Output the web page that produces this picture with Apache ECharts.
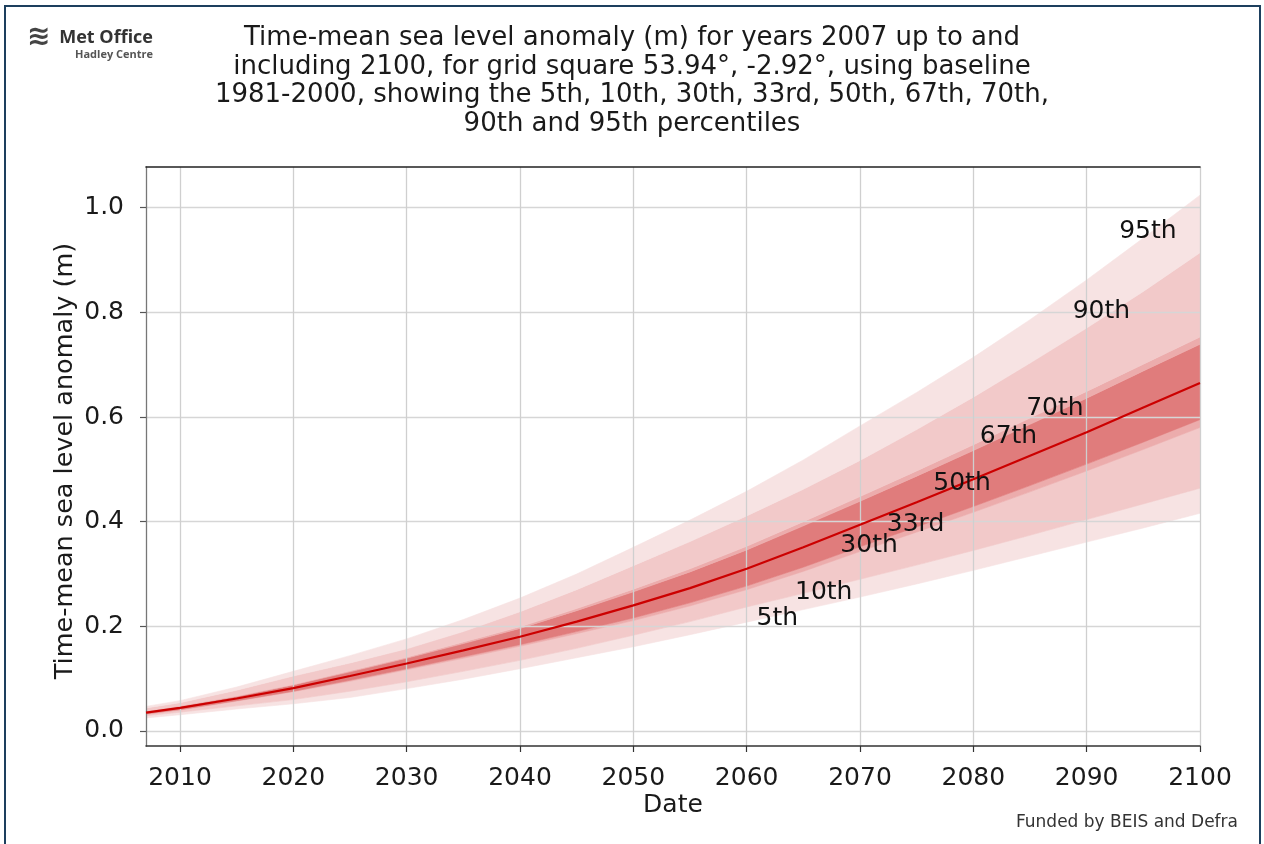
<!DOCTYPE html>
<html>
<head>
<meta charset="utf-8">
<script src="https://cdn.jsdelivr.net/npm/echarts@6/dist/echarts.min.js"></script>
<style>
html,body{margin:0;padding:0;background:#fff;}
#chart{width:1264px;height:844px;}
</style>
</head>
<body>
<div id="chart"></div>
<script>
var years = [2007,2010,2015,2020,2025,2030,2035,2040,2045,2050,2055,2060,2065,2070,2075,2080,2085,2090,2095,2100];
var p5  = [0.025,0.031,0.042,0.052,0.064,0.081,0.099,0.119,0.140,0.161,0.184,0.208,0.232,0.256,0.281,0.307,0.334,0.361,0.388,0.416];
var p10 = [0.029,0.036,0.048,0.060,0.076,0.094,0.114,0.135,0.158,0.183,0.209,0.237,0.263,0.290,0.317,0.345,0.374,0.404,0.434,0.464];
var p30 = [0.032,0.040,0.057,0.075,0.095,0.117,0.139,0.162,0.186,0.211,0.239,0.270,0.305,0.343,0.380,0.418,0.457,0.497,0.538,0.580];
var p33 = [0.033,0.041,0.058,0.076,0.097,0.119,0.142,0.165,0.190,0.216,0.245,0.277,0.313,0.352,0.390,0.429,0.469,0.510,0.552,0.595];
var p50 = [0.035,0.044,0.062,0.082,0.105,0.129,0.154,0.180,0.209,0.240,0.273,0.310,0.351,0.394,0.437,0.481,0.526,0.571,0.618,0.665];
var p67 = [0.037,0.047,0.066,0.088,0.113,0.139,0.167,0.196,0.230,0.266,0.304,0.346,0.392,0.439,0.487,0.536,0.586,0.636,0.688,0.739];
var p70 = [0.038,0.048,0.067,0.089,0.115,0.141,0.170,0.199,0.234,0.271,0.310,0.353,0.400,0.448,0.497,0.547,0.598,0.649,0.701,0.753];
var p90 = [0.044,0.054,0.078,0.105,0.130,0.157,0.190,0.228,0.270,0.316,0.362,0.411,0.462,0.517,0.576,0.638,0.703,0.770,0.840,0.914];
var p95 = [0.047,0.058,0.084,0.114,0.144,0.176,0.213,0.254,0.300,0.351,0.403,0.458,0.518,0.583,0.647,0.714,0.786,0.862,0.942,1.024];

var labelNames  = ['5th','10th','30th','33rd','50th','67th','70th','90th','95th'];
var labelYears  = [2062.7,2066.8,2070.8,2074.9,2079.0,2083.1,2087.2,2091.3,2095.4];
var labelValues = [0.215,0.265,0.355,0.395,0.472,0.563,0.617,0.801,0.955];

var titleText = 'Time-mean sea level anomaly (m) for years 2007 up to and\nincluding 2100, for grid square 53.94°, -2.92°, using baseline\n1981-2000, showing the 5th, 10th, 30th, 33rd, 50th, 67th, 70th,\n90th and 95th percentiles';
var yTitle = 'Time-mean sea level anomaly (m)';
var xTitle = 'Date';

var C_LIGHTEST = '#f7e3e3', C_LIGHT = '#f2c9c9', C_MED = '#ecacac', C_DARK = '#e07c7c';

// each band: data rows [year, lower, upper]; the polygon is drawn once through api.coord
function band(name, lower, upper, color){
  var rows = years.map(function(y,i){ return [y, lower[i], upper[i]]; });
  return {
    name:name, type:'custom', z:2, silent:true, clip:true,
    encode:{x:0, y:[1,2]},
    data: rows,
    renderItem: function(params, api){
      if (params.dataIndex !== 0) return null;
      var pts = [];
      for (var i = 0; i < rows.length; i++) pts.push(api.coord([rows[i][0], rows[i][2]]));
      for (var j = rows.length - 1; j >= 0; j--) pts.push(api.coord([rows[j][0], rows[j][1]]));
      return {type:'polygon', shape:{points:pts}, style:{fill:color, stroke:color, lineWidth:0.6}};
    }
  };
}

var series = [
  band('5-10', p5, p10, C_LIGHTEST),
  band('10-30', p10, p30, C_LIGHT),
  band('30-33', p30, p33, C_MED),
  band('33-67', p33, p67, C_DARK),
  band('67-70', p67, p70, C_MED),
  band('70-90', p70, p90, C_LIGHT),
  band('90-95', p90, p95, C_LIGHTEST),
  {name:'50th', type:'line', data:years.map(function(y,i){return [y,p50[i]];}), symbol:'none', z:5,
    lineStyle:{color:'#cc0000', width:2.2}},
  {name:'labels', type:'scatter', z:6, symbolSize:1, itemStyle:{color:'rgba(0,0,0,0)'},
    data: labelNames.map(function(n,i){ return {name:n, value:[labelYears[i], labelValues[i]]}; }),
    label:{show:true, opacity:1, position:'inside', formatter:'{b}', color:'#111', fontSize:25, fontFamily:'DejaVu Sans'}}
];

var chart = echarts.init(document.getElementById('chart'), null, {renderer:'canvas'});
chart.setOption({
  animation:false,
  backgroundColor:'#ffffff',
  title:{text:titleText, left:'center', top:19, textStyle:{fontFamily:'DejaVu Sans', fontSize:26, fontWeight:'normal', color:'#1a1a1a', lineHeight:28.5}},
  grid:{left:146, right:64, top:167, bottom:98, containLabel:false},
  xAxis:[{type:'value', min:2007, max:2100, splitNumber:9, z:4,
    axisLine:{show:true, onZero:false, lineStyle:{color:'#333', width:1.5}},
    axisTick:{show:true, length:6, lineStyle:{color:'#333', width:1.2}},
    axisLabel:{showMinLabel:false, margin:20, fontSize:25, color:'#1a1a1a', fontFamily:'DejaVu Sans', formatter:function(v){return String(Math.round(v));}},
    splitLine:{show:true, showMinLine:false, lineStyle:{color:'#cfcfcf', width:1.3}}},
   {type:'value', position:'top', min:2007, max:2100, splitNumber:9, z:4,
    axisLine:{show:true, onZero:false, lineStyle:{color:'#222', width:1.6}}, axisTick:{show:false}, axisLabel:{show:false}, splitLine:{show:false}}],
  yAxis:[{type:'value', min:-0.0287, max:1.0778, splitNumber:5, z:3,
    axisLine:{show:true, onZero:false, lineStyle:{color:'#777', width:1.3}},
    axisTick:{show:true, length:6, lineStyle:{color:'#555', width:1.2}},
    axisLabel:{showMinLabel:false, showMaxLabel:false, margin:22, fontSize:25, color:'#1a1a1a', fontFamily:'DejaVu Sans', formatter:function(v){return v.toFixed(1);}},
    splitLine:{show:true, showMinLine:false, showMaxLine:false, lineStyle:{color:'#d6d6d6', width:1.3}}}],
  series:series,
  graphic:[
    {type:'rect', shape:{x:5, y:6, width:1255, height:900}, style:{fill:'none', stroke:'#1d3f5e', lineWidth:2}, silent:true},
    {type:'text', x:65, y:461, rotation:Math.PI/2, style:{text:yTitle, fontFamily:'DejaVu Sans', fontSize:25.5, fill:'#1a1a1a', textAlign:'center', textVerticalAlign:'middle'}},
    {type:'text', x:673, y:805, style:{text:xTitle, fontFamily:'DejaVu Sans', fontSize:25, fill:'#1a1a1a', textAlign:'center', textVerticalAlign:'middle'}},
    {type:'text', x:1238, y:823, style:{text:'Funded by BEIS and Defra', fontFamily:'DejaVu Sans', fontSize:17, fill:'#333', textAlign:'right', textVerticalAlign:'middle'}},
    {type:'text', x:27, y:38, style:{text:'≋', fontFamily:'DejaVu Sans', fontSize:28, fontWeight:'bold', fill:'#444', textAlign:'left', textVerticalAlign:'middle'}},
    {type:'text', x:153, y:38, style:{text:'Met Office', fontFamily:'Open Sans', fontSize:18, fontWeight:'bold', fill:'#333', textAlign:'right', textVerticalAlign:'middle'}},
    {type:'text', x:153, y:55, style:{text:'Hadley Centre', fontFamily:'Open Sans', fontSize:11, fontWeight:'bold', fill:'#555', textAlign:'right', textVerticalAlign:'middle'}}
  ]
});
</script>
</body>
</html>
